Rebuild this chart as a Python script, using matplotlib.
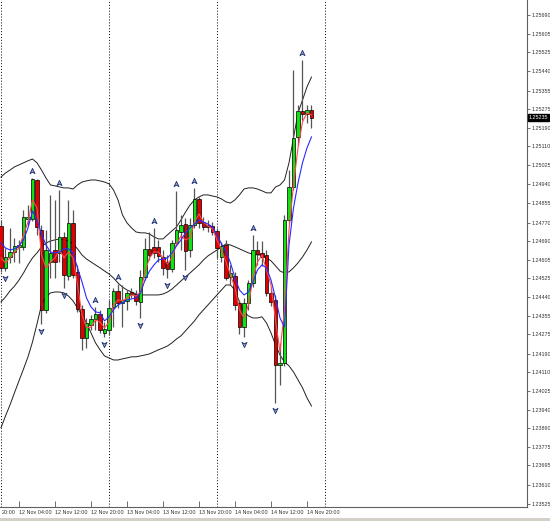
import numpy as np
import matplotlib
matplotlib.use("Agg")
import matplotlib.pyplot as plt
from matplotlib.path import Path
from matplotlib.patches import Rectangle

# H1 candles, bar index = hours after 12 Nov 00:00
hours = np.arange(70)

opens = np.array([
    1.24755, 1.24570, 1.24618, 1.24640, 1.24663, 1.24663, 1.24786, 1.24786, 1.24959, 1.24738,
    1.24384, 1.24596, 1.24649, 1.24636, 1.24707, 1.24534, 1.24769, 1.24552, 1.24388, 1.24260,
    1.24317, 1.24344, 1.24366, 1.24282, 1.24295, 1.24397, 1.24468, 1.24415, 1.24424, 1.24463,
    1.24454, 1.24419, 1.24530, 1.24654, 1.24663, 1.24663, 1.24618, 1.24596, 1.24565, 1.24681,
    1.24729, 1.24764, 1.24649, 1.24760, 1.24875, 1.24773, 1.24760, 1.24755, 1.24734, 1.24618,
    1.24672, 1.24530, 1.24534, 1.24415, 1.24308, 1.24415, 1.24503, 1.24649, 1.24636, 1.24627,
    1.24459, 1.24428, 1.24140, 1.24149, 1.24782, 1.24928, 1.25150, 1.25265, 1.25251, 1.25269,
])
highs = np.array([
    1.24782, 1.24658, 1.24747, 1.24702, 1.24694, 1.24826, 1.24848, 1.24968, 1.24964, 1.24760,
    1.24738, 1.24893, 1.24871, 1.24915, 1.24729, 1.24871, 1.24826, 1.24583, 1.24406, 1.24348,
    1.24362, 1.24397, 1.24384, 1.24330, 1.24428, 1.24481, 1.24499, 1.24494, 1.24472, 1.24481,
    1.24472, 1.24561, 1.24702, 1.24729, 1.24747, 1.24694, 1.24649, 1.24627, 1.24694, 1.24911,
    1.24804, 1.24791, 1.24791, 1.24924, 1.24884, 1.24795, 1.24782, 1.24773, 1.24747, 1.24685,
    1.24694, 1.24583, 1.24552, 1.24428, 1.24437, 1.24516, 1.24716, 1.24689, 1.24689, 1.24649,
    1.24481, 1.24450, 1.24238, 1.24804, 1.25003, 1.25446, 1.25291, 1.25490, 1.25291, 1.25291,
])
lows = np.array([
    1.24552, 1.24556, 1.24592, 1.24596, 1.24592, 1.24649, 1.24760, 1.24778, 1.24716, 1.24322,
    1.24371, 1.24525, 1.24525, 1.24596, 1.24481, 1.24516, 1.24525, 1.24375, 1.24207, 1.24216,
    1.24295, 1.24295, 1.24282, 1.24264, 1.24273, 1.24308, 1.24392, 1.24308, 1.24384, 1.24437,
    1.24406, 1.24348, 1.24516, 1.24605, 1.24614, 1.24596, 1.24539, 1.24525, 1.24552, 1.24671,
    1.24649, 1.24561, 1.24618, 1.24747, 1.24747, 1.24738, 1.24729, 1.24716, 1.24614, 1.24596,
    1.24516, 1.24494, 1.24384, 1.24277, 1.24264, 1.24384, 1.24485, 1.24583, 1.24579, 1.24445,
    1.24401, 1.23972, 1.24052, 1.24135, 1.24769, 1.24915, 1.25114, 1.25225, 1.25212, 1.25189,
])
closes = np.array([
    1.24570, 1.24618, 1.24640, 1.24667, 1.24671, 1.24795, 1.24795, 1.24964, 1.24751, 1.24384,
    1.24649, 1.24636, 1.24596, 1.24707, 1.24539, 1.24769, 1.24539, 1.24388, 1.24260, 1.24326,
    1.24344, 1.24366, 1.24295, 1.24300, 1.24392, 1.24468, 1.24415, 1.24428, 1.24459, 1.24455,
    1.24424, 1.24530, 1.24654, 1.24627, 1.24636, 1.24623, 1.24570, 1.24565, 1.24681, 1.24738,
    1.24760, 1.24645, 1.24760, 1.24875, 1.24769, 1.24751, 1.24751, 1.24729, 1.24658, 1.24667,
    1.24525, 1.24547, 1.24406, 1.24308, 1.24415, 1.24503, 1.24649, 1.24631, 1.24618, 1.24459,
    1.24419, 1.24140, 1.24149, 1.24782, 1.24928, 1.25145, 1.25265, 1.25251, 1.25269, 1.25235,
])

# Bollinger bands
bb_upper = np.array([
    1.24972, 1.24990, 1.25003, 1.25017, 1.25026, 1.25035, 1.25044, 1.25052, 1.25035, 1.25003,
    1.24968, 1.24937, 1.24933, 1.24928, 1.24924, 1.24924, 1.24919, 1.24937, 1.24950, 1.24955,
    1.24959, 1.24959, 1.24955, 1.24950, 1.24942, 1.24915, 1.24871, 1.24804, 1.24769, 1.24747,
    1.24729, 1.24725, 1.24725, 1.24720, 1.24707, 1.24698, 1.24698, 1.24716, 1.24734, 1.24751,
    1.24782, 1.24817, 1.24848, 1.24871, 1.24884, 1.24893, 1.24893, 1.24888, 1.24884, 1.24875,
    1.24862, 1.24857, 1.24871, 1.24893, 1.24919, 1.24924, 1.24924, 1.24919, 1.24911, 1.24902,
    1.24902, 1.24928, 1.24937, 1.24959, 1.25035, 1.25145, 1.25256, 1.25313, 1.25371, 1.25415,
])
bb_middle = np.array([
    1.24419, 1.24441, 1.24468, 1.24489, 1.24516, 1.24547, 1.24583, 1.24614, 1.24636, 1.24663,
    1.24680, 1.24689, 1.24694, 1.24698, 1.24694, 1.24689, 1.24676, 1.24654, 1.24627, 1.24609,
    1.24596, 1.24583, 1.24570, 1.24556, 1.24543, 1.24525, 1.24503, 1.24485, 1.24472, 1.24463,
    1.24454, 1.24450, 1.24450, 1.24450, 1.24450, 1.24450, 1.24454, 1.24463, 1.24476, 1.24494,
    1.24512, 1.24530, 1.24547, 1.24565, 1.24583, 1.24605, 1.24623, 1.24636, 1.24649, 1.24663,
    1.24676, 1.24671, 1.24663, 1.24654, 1.24645, 1.24636, 1.24631, 1.24627, 1.24627, 1.24614,
    1.24601, 1.24579, 1.24556, 1.24547, 1.24552, 1.24570, 1.24592, 1.24618, 1.24649, 1.24685,
])
bb_lower = np.array([
    1.23862, 1.23914, 1.23963, 1.24017, 1.24070, 1.24122, 1.24176, 1.24242, 1.24322, 1.24406,
    1.24441, 1.24459, 1.24463, 1.24463, 1.24459, 1.24445, 1.24424, 1.24392, 1.24362, 1.24326,
    1.24282, 1.24238, 1.24207, 1.24180, 1.24171, 1.24162, 1.24162, 1.24167, 1.24171, 1.24176,
    1.24176, 1.24180, 1.24184, 1.24189, 1.24198, 1.24207, 1.24215, 1.24224, 1.24238, 1.24255,
    1.24269, 1.24291, 1.24313, 1.24335, 1.24362, 1.24384, 1.24406, 1.24428, 1.24450, 1.24472,
    1.24494, 1.24494, 1.24472, 1.24419, 1.24375, 1.24357, 1.24348, 1.24348, 1.24353, 1.24326,
    1.24282, 1.24229, 1.24184, 1.24153, 1.24136, 1.24109, 1.24074, 1.24039, 1.23994, 1.23958,
])

# moving averages (fast = red, slow = blue)
ma_fast = np.array([
    1.24614, 1.24592, 1.24614, 1.24640, 1.24658, 1.24716, 1.24773, 1.24871, 1.24835, 1.24627,
    1.24570, 1.24596, 1.24614, 1.24649, 1.24614, 1.24640, 1.24614, 1.24494, 1.24362, 1.24304,
    1.24308, 1.24339, 1.24330, 1.24304, 1.24330, 1.24406, 1.24428, 1.24424, 1.24437, 1.24450,
    1.24445, 1.24463, 1.24552, 1.24614, 1.24640, 1.24640, 1.24614, 1.24587, 1.24614, 1.24676,
    1.24711, 1.24694, 1.24702, 1.24773, 1.24809, 1.24773, 1.24755, 1.24742, 1.24694, 1.24649,
    1.24596, 1.24539, 1.24481, 1.24384, 1.24348, 1.24406, 1.24525, 1.24596, 1.24627, 1.24561,
    1.24494, 1.24339, 1.24198, 1.24384, 1.24738, 1.24937, 1.25101, 1.25216, 1.25256, 1.25247,
])
ma_slow = np.array([
    1.24680, 1.24658, 1.24649, 1.24654, 1.24667, 1.24694, 1.24747, 1.24822, 1.24782, 1.24720,
    1.24671, 1.24640, 1.24636, 1.24640, 1.24654, 1.24654, 1.24636, 1.24570, 1.24508, 1.24437,
    1.24397, 1.24375, 1.24371, 1.24335, 1.24353, 1.24384, 1.24406, 1.24415, 1.24428, 1.24432,
    1.24437, 1.24459, 1.24516, 1.24556, 1.24583, 1.24605, 1.24609, 1.24614, 1.24636, 1.24667,
    1.24694, 1.24725, 1.24747, 1.24764, 1.24782, 1.24773, 1.24764, 1.24751, 1.24716, 1.24676,
    1.24645, 1.24592, 1.24525, 1.24472, 1.24450, 1.24463, 1.24508, 1.24561, 1.24583, 1.24570,
    1.24516, 1.24437, 1.24348, 1.24308, 1.24671, 1.24835, 1.24946, 1.25035, 1.25101, 1.25150,
])

# fractal bars
fractal_up = [7, 13, 21, 26, 34, 39, 43, 56, 67]
fractal_down = [1, 9, 14, 23, 31, 37, 41, 54, 61]

day_starts = [0, 24, 48, 72]
time_ticks = [4, 12, 20, 28, 36, 44, 52, 60, 68]
time_labels = ["12 Nov 04:00", "12 Nov 12:00", "12 Nov 20:00", "13 Nov 04:00",
               "13 Nov 12:00", "13 Nov 20:00", "14 Nov 04:00", "14 Nov 12:00",
               "14 Nov 20:00"]
first_label = "20:00"   # tail of "11 Nov 20:00", cut by the left edge
price_labels = ["1.23525", "1.23610", "1.23695", "1.23775", "1.23860", "1.23940",
                "1.24025", "1.24110", "1.24190", "1.24275", "1.24355", "1.24440",
                "1.24525", "1.24605", "1.24690", "1.24770", "1.24855", "1.24940",
                "1.25025", "1.25110", "1.25190", "1.25275", "1.25355", "1.25440",
                "1.25525", "1.25605", "1.25690"]
last_price = 1.25235

plt.rcParams["font.family"] = ["Liberation Sans", "DejaVu Sans"]
FS = 3.9

fig = plt.figure(figsize=(5.5, 5.21), dpi=100)
ax = fig.add_axes([0, 14 / 521, 527 / 550, 507 / 521])
ax.set_xlim(-0.222, 116.89)
ax.set_ylim(1.23511, 1.25756)

for d in day_starts:
    ax.axvline(d, color="black", linestyle=(0, (1, 2)), linewidth=0.7, zorder=1)

for band in (bb_upper, bb_middle, bb_lower):
    ax.plot(hours, band, color="#202020", linewidth=0.7, zorder=2)

# candles
bull = closes >= opens
body_col = np.where(bull, "#11E011", "#E00000")
ax.vlines(hours, lows, highs, color="#555555", linewidth=0.9, zorder=3)
ax.bar(hours, np.abs(closes - opens), bottom=np.minimum(opens, closes), width=0.7,
       color=body_col, edgecolor="black", linewidth=0.5, zorder=4)

ax.plot(hours, ma_fast, color="#FF4A4A", linewidth=0.8, zorder=5)
ax.plot(hours, ma_slow, color="#2A2AFF", linewidth=0.8, zorder=5)

# fractal arrows
up_arrow = Path([(0, 1), (0.8, -0.7), (0, -0.2), (-0.8, -0.7), (0, 1)],
                [Path.MOVETO, Path.LINETO, Path.LINETO, Path.LINETO, Path.CLOSEPOLY])
down_arrow = Path([(0, -1), (0.8, 0.7), (0, 0.2), (-0.8, 0.7), (0, -1)],
                  [Path.MOVETO, Path.LINETO, Path.LINETO, Path.LINETO, Path.CLOSEPOLY])
arrow_style = dict(linestyle="none", markersize=4.5, markerfacecolor="#9AA6D4",
                   markeredgecolor="#1C2C70", markeredgewidth=0.6, zorder=6)
ax.plot(fractal_up, highs[fractal_up] + 0.0003, marker=up_arrow, **arrow_style)
ax.plot(fractal_down, lows[fractal_down] - 0.0003, marker=down_arrow, **arrow_style)

# axes frame
for side in ("top", "left"):
    ax.spines[side].set_visible(False)
for side in ("right", "bottom"):
    ax.spines[side].set_color("#606060")
    ax.spines[side].set_linewidth(0.8)

ax.yaxis.tick_right()
ax.set_yticks([float(v) for v in price_labels])
ax.set_yticklabels(price_labels)
ax.tick_params(axis="y", direction="out", length=2.5, width=0.6, colors="#555555",
               labelsize=FS, labelcolor="#333333", pad=1)

ax.set_xticks(time_ticks)
ax.set_xticklabels([])
ax.tick_params(axis="x", direction="in", length=4, width=0.6, colors="#555555")
xt = ax.get_xaxis_transform()
for t, lab in zip(time_ticks, time_labels):
    ax.text(t, -0.006, lab, transform=xt, ha="left", va="top", fontsize=FS,
            color="#333333", clip_on=False)
ax.text(0.1, -0.006, first_label, transform=xt, ha="left", va="top", fontsize=FS,
        color="#333333", clip_on=False)

ax.text(1.003, last_price, "1.25235", transform=ax.get_yaxis_transform(), ha="left",
        va="center", fontsize=FS, color="white", zorder=10,
        bbox=dict(facecolor="black", edgecolor="black", pad=0.6))

fig.patches.append(Rectangle((0, 0), 1, 3 / 521, transform=fig.transFigure,
                             facecolor="#D4D0C8", edgecolor="none"))

fig.savefig("out.png", dpi=100)
